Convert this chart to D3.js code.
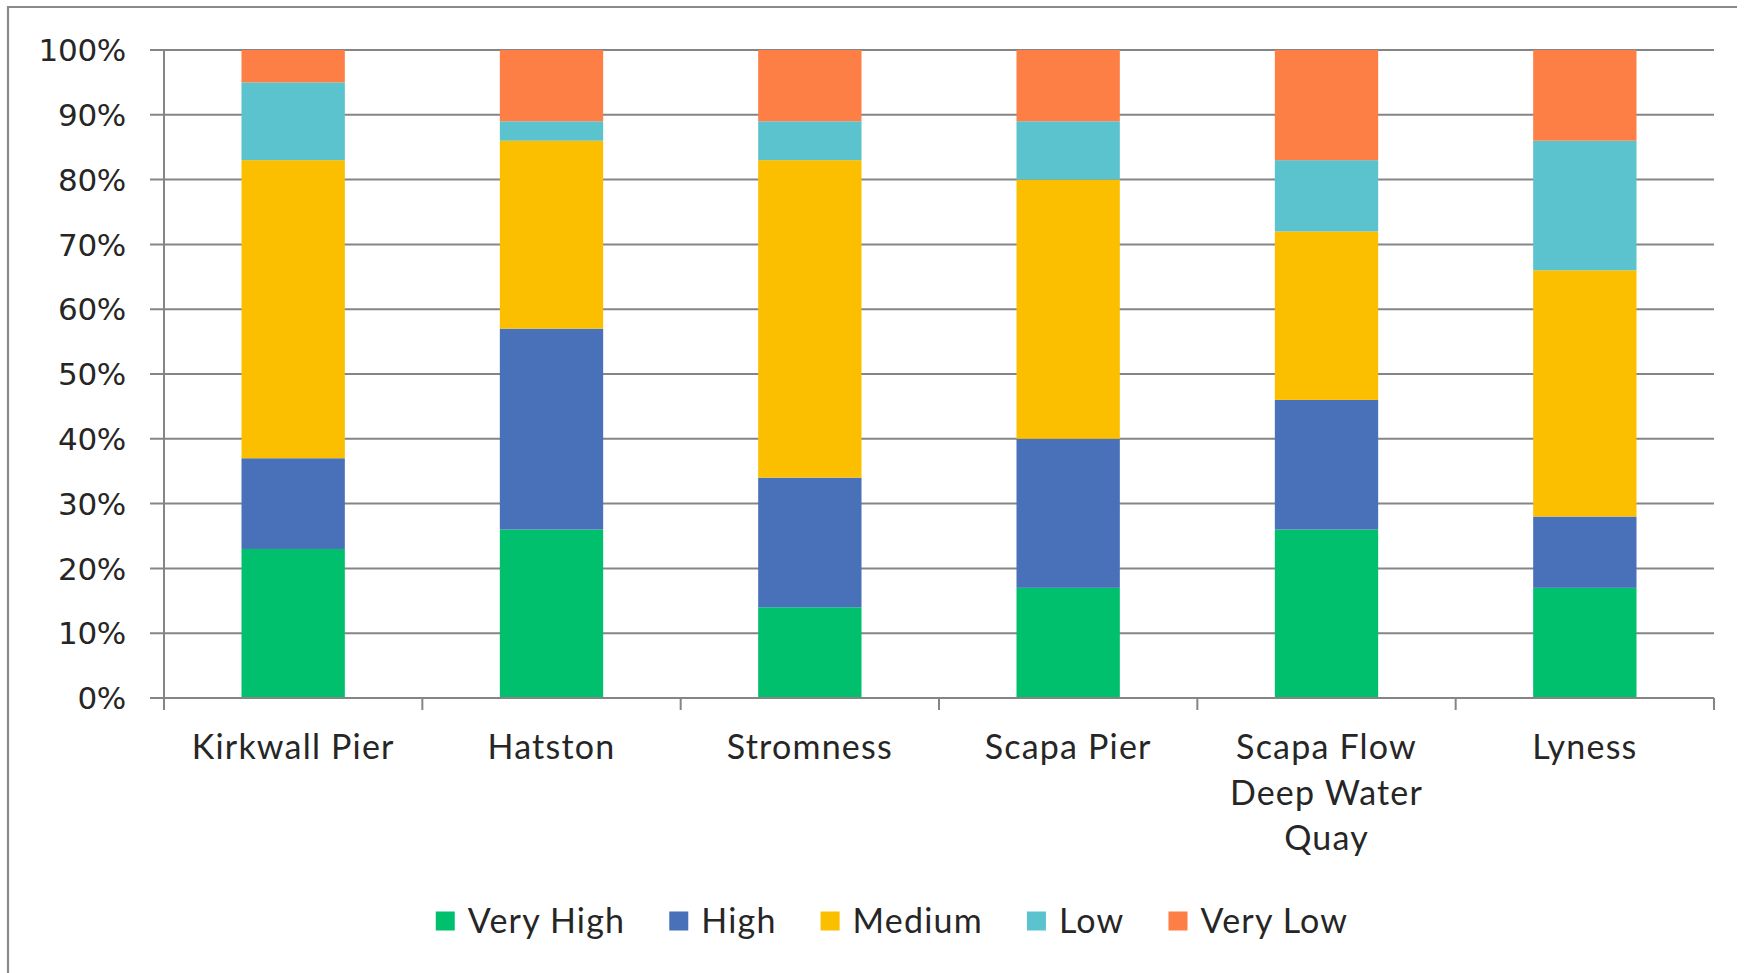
<!DOCTYPE html>
<html>
<head>
<meta charset="utf-8">
<script src="https://cdn.jsdelivr.net/npm/d3@7"></script>
<style>
  html, body { margin: 0; padding: 0; background: #fff; }
  svg { display: block; }
</style>
</head>
<body>
<svg id="chart" width="1746" height="973"></svg>
<script>
// Port locations along the x axis (multi-line labels split on "\n")
const categories = ["Kirkwall Pier", "Hatston", "Stromness", "Scapa Pier", "Scapa Flow\nDeep Water\nQuay", "Lyness"];

// Rating bands, bottom to top of each stack
const seriesNames = ["Very High", "High", "Medium", "Low", "Very Low"];
const seriesColors = ["#00BF6D", "#4871BA", "#FCBF00", "#5BC3CD", "#FD7F45"];

// Share (%) of each rating per location
const veryHigh = [23, 26, 14, 17, 26, 17];
const high     = [14, 31, 20, 23, 20, 11];
const medium   = [46, 29, 49, 40, 26, 38];
const low      = [12,  3,  6,  9, 11, 20];
const veryLow  = [ 5, 11, 11, 11, 17, 14];

const yTicks = [0, 10, 20, 30, 40, 50, 60, 70, 80, 90, 100];

const seriesValues = [veryHigh, high, medium, low, veryLow];
const rows = categories.map((c, i) => {
  const r = { category: c };
  seriesNames.forEach((s, k) => { r[s] = seriesValues[k][i]; });
  return r;
});

const svg = d3.select("#chart");
const plot = { left: 164, right: 1714, top: 50, bottom: 698 };
const labelFont = "Lato, 'Open Sans', sans-serif";

// Outer chart frame (left and top edges)
svg.append("path")
  .attr("d", "M8,973 L8,7 L1737,7")
  .attr("fill", "none")
  .attr("stroke", "#8a8a8a")
  .attr("stroke-width", 2.2);

const x = d3.scaleBand().domain(categories).range([plot.left, plot.right]).padding(0);
const y = d3.scaleLinear().domain([0, 100]).range([plot.bottom, plot.top]);

// Horizontal gridlines (extend slightly left of the axis as tick marks)
svg.append("g")
  .selectAll("line")
  .data(yTicks)
  .join("line")
  .attr("x1", plot.left - 14)
  .attr("x2", plot.right)
  .attr("y1", d => y(d))
  .attr("y2", d => y(d))
  .attr("stroke", "#858585")
  .attr("stroke-width", 2);

// Stacked bars
const stack = d3.stack().keys(seriesNames);
const layers = stack(rows);
const barW = x.bandwidth() * 0.4;

svg.append("g")
  .selectAll("g")
  .data(layers)
  .join("g")
  .attr("fill", (d, i) => seriesColors[i])
  .selectAll("rect")
  .data(d => d)
  .join("rect")
  .attr("x", d => x(d.data.category) + (x.bandwidth() - barW) / 2)
  .attr("width", barW)
  .attr("y", d => y(d[1]))
  .attr("height", d => y(d[0]) - y(d[1]));

// Y axis line
svg.append("line")
  .attr("x1", plot.left).attr("x2", plot.left)
  .attr("y1", plot.top).attr("y2", plot.bottom + 12)
  .attr("stroke", "#858585").attr("stroke-width", 2);

// X axis line with category boundary ticks
svg.append("line")
  .attr("x1", plot.left - 14).attr("x2", plot.right)
  .attr("y1", plot.bottom).attr("y2", plot.bottom)
  .attr("stroke", "#858585").attr("stroke-width", 2);

const boundaries = categories.map(c => x(c)).concat([x(categories[categories.length - 1]) + x.bandwidth()]);
svg.append("g")
  .selectAll("line")
  .data(boundaries)
  .join("line")
  .attr("x1", d => d).attr("x2", d => d)
  .attr("y1", plot.bottom).attr("y2", plot.bottom + 12)
  .attr("stroke", "#858585").attr("stroke-width", 2);

// Y tick labels
svg.append("g")
  .selectAll("text")
  .data(yTicks)
  .join("text")
  .attr("x", 126)
  .attr("y", d => y(d))
  .attr("dy", "0.36em")
  .attr("text-anchor", "end")
  .attr("font-family", "DejaVu Sans, Verdana, sans-serif")
  .attr("font-size", 31)
  .attr("letter-spacing", -0.3)
  .attr("fill", "#262626")
  .text(d => d + "%");

// Category labels
const catG = svg.append("g");
categories.forEach(c => {
  const lines = c.split("\n");
  const t = catG.append("text")
    .attr("x", x(c) + x.bandwidth() / 2)
    .attr("y", 759)
    .attr("text-anchor", "middle")
    .attr("font-family", labelFont)
    .attr("font-size", 34)
    .attr("letter-spacing", 1.2)
    .attr("fill", "#262626");
  lines.forEach((ln, i) => {
    t.append("tspan")
      .attr("x", x(c) + x.bandwidth() / 2)
      .attr("dy", i === 0 ? 0 : 45.5)
      .text(ln);
  });
});

// Legend, centred under the plot
const legend = svg.append("g");
const sw = 19, swGap = 13, itemGap = 44, legendY = 921;
const items = seriesNames.map((s, i) => {
  const g = legend.append("g");
  g.append("rect")
    .attr("width", sw).attr("height", sw)
    .attr("y", legendY - sw / 2)
    .attr("fill", seriesColors[i]);
  const txt = g.append("text")
    .attr("x", sw + swGap)
    .attr("y", legendY)
    .attr("dy", "0.35em")
    .attr("font-family", labelFont)
    .attr("font-size", 34)
    .attr("letter-spacing", 1.2)
    .attr("fill", "#262626")
    .text(s);
  return { g, w: sw + swGap + txt.node().getComputedTextLength() };
});
const totalW = d3.sum(items, d => d.w) + itemGap * (items.length - 1);
let cx = 892 - totalW / 2;
items.forEach(it => {
  it.g.attr("transform", `translate(${cx},0)`);
  cx += it.w + itemGap;
});
</script>
</body>
</html>
